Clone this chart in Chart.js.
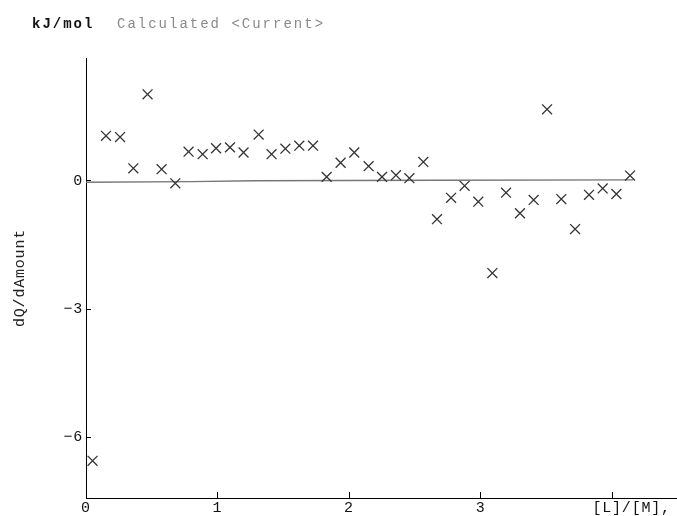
<!DOCTYPE html>
<html>
<head>
<meta charset="utf-8">
<script src="https://cdn.jsdelivr.net/npm/chart.js@4.4.0/dist/chart.umd.min.js"></script>
<style>
html, body { margin: 0; padding: 0; background: #fff; }
</style>
</head>
<body>
<canvas id="chart" width="677" height="516"></canvas>
<script>
// titration points: x = [L]/[M], y = dQ/dAmount (kJ/mol)
const ratio = [0.050, 0.152, 0.259, 0.360, 0.468, 0.575, 0.679, 0.780, 0.887, 0.989,
	1.095, 1.198, 1.313, 1.411, 1.516, 1.622, 1.726, 1.830, 1.936, 2.040,
	2.149, 2.251, 2.357, 2.459, 2.565, 2.669, 2.776, 2.879, 2.983, 3.090,
	3.194, 3.300, 3.404, 3.506, 3.614, 3.719, 3.825, 3.929, 4.033, 4.137]
const heat = [-6.55, 1.05, 1.02, 0.29, 2.02, 0.27, -0.06, 0.68, 0.62, 0.76,
	0.78, 0.66, 1.08, 0.62, 0.75, 0.82, 0.82, 0.09, 0.42, 0.66,
	0.34, 0.09, 0.13, 0.06, 0.44, -0.90, -0.40, -0.12, -0.49, -2.16,
	-0.28, -0.76, -0.45, 1.67, -0.43, -1.13, -0.33, -0.18, -0.31, 0.12]

// calculated curve (almost flat around zero)
const calcRatio = [0, 0.80, 1.28, 2.67, 4.16]
const calcHeat = [-0.035, -0.02, 0.0, 0.01, 0.02]

const xTicks = [0, 1, 2, 3, 4]
const yTicks = [-6, -3, 0]
const xTitle = "[L]/[M],"
const yTitle = "dQ/dAmount"
const unitText = "kJ/mol"
const seriesText = "Calculated <Current>"

const mono = "Liberation Mono"

const header = {
	id: "header",
	beforeDraw(chart) {
		chart.ctx.letterSpacing = "0.8px"
	},
	afterDraw(chart) {
		const ctx = chart.ctx
		ctx.save()
		ctx.letterSpacing = "2px"
		ctx.textBaseline = "alphabetic"
		ctx.textAlign = "left"
		ctx.font = "bold 14px '" + mono + "'"
		ctx.fillStyle = "#111"
		ctx.fillText(unitText, 32, 28)
		ctx.font = "14px '" + mono + "'"
		ctx.fillStyle = "#8a8a8a"
		ctx.fillText(seriesText, 117, 28)
		ctx.restore()
	}
}

const chart = new Chart(document.querySelector("#chart").getContext("2d"), {
	type: "scatter",
	data: {
		datasets: [{
			label: "measured",
			data: ratio.map((x, i) => ({x: x, y: heat[i]})),
			pointStyle: "crossRot",
			pointRadius: 7,
			borderColor: "#333",
			backgroundColor: "transparent",
			borderWidth: 1.3
		}, {
			label: "calculated",
			data: calcRatio.map((x, i) => ({x: x, y: calcHeat[i]})),
			showLine: true,
			pointRadius: 0,
			borderColor: "#777",
			borderWidth: 1.4,
			fill: false
		}]
	},
	options: {
		responsive: false,
		devicePixelRatio: 1,
		animation: false,
		layout: {autoPadding: false, padding: {top: 58, right: 0, bottom: 0, left: 0}},
		plugins: {legend: {display: false}, tooltip: {enabled: false}},
		scales: {
			x: {
				type: "linear",
				min: 0,
				max: 4.494,
				afterBuildTicks: s => { s.ticks = xTicks.map(v => ({value: v})) },
				afterFit: s => {
					s.height = 18
					s.paddingLeft = 0
					s.paddingRight = 0
				},
				grid: {drawOnChartArea: false, tickLength: -6, color: "#000"},
				border: {color: "#000", width: 1},
				ticks: {
					padding: 7,
					color: "#111",
					maxRotation: 0,
					autoSkip: false,
					font: {family: mono, size: 15},
					callback: v => v === 4 ? "    " + xTitle : String(v)
				}
			},
			y: {
				min: -7.42,
				max: 2.87,
				afterBuildTicks: s => { s.ticks = yTicks.map(v => ({value: v})) },
				afterFit: s => {
					s.width = 86
					s.paddingTop = 0
					s.paddingBottom = 0
				},
				grid: {drawOnChartArea: false, tickLength: -5, color: "#000"},
				border: {color: "#000", width: 1},
				title: {
					display: true,
					text: yTitle,
					color: "#222",
					font: {family: mono, size: 15},
					padding: {top: 11, bottom: 0}
				},
				ticks: {
					padding: 8,
					color: "#111",
					font: {family: mono, size: 15},
					callback: v => v < 0 ? "\u2212" + Math.abs(v) : String(v)
				}
			}
		}
	},
	plugins: [header]
})
</script>
</body>
</html>
